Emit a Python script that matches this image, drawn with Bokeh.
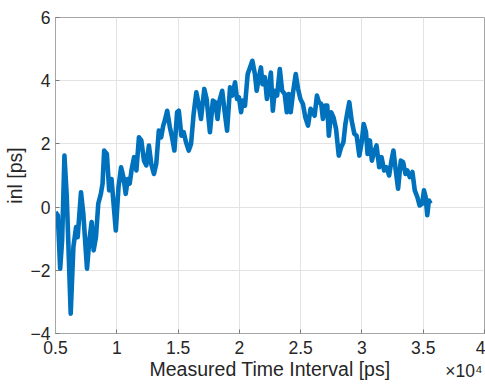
from bokeh.plotting import figure
from bokeh.models import Range1d, FixedTicker, LinearAxis
from bokeh.embed import file_html
from bokeh.resources import INLINE

# Measured time interval [ps]
time_ps = [5000, 5190, 5380, 5540, 5730, 5920, 6240, 6460, 6680, 6810, 7080, 7270,
           7570, 7760, 7950, 8110, 8300, 8490, 8700, 8840, 8970, 9190, 9380, 9570,
           9920, 10140, 10350, 10540, 10730, 10890, 11050, 11220, 11410, 11600, 11810,
           12000, 12220, 12410, 12620, 12810, 13030, 13220, 13430, 13620, 13790, 13920,
           14110, 14330, 14510, 14700, 14920, 15060, 15270, 15460, 15650, 15870, 16060,
           16270, 16490, 16680, 16870, 17140, 17330, 17600, 17840, 18030, 18220, 18380,
           18600, 18790, 19000, 19240, 19430, 19650, 19810, 19970, 20140, 20270, 20460,
           20680, 20870, 21060, 21270, 21410, 21600, 21760, 21890, 22080, 22250, 22410,
           22570, 22730, 22890, 23080, 23300, 23490, 23700, 23870, 24030, 24190, 24380,
           24600, 24790, 24980, 25190, 25380, 25600, 25810, 26000, 26140, 26330, 26490,
           26680, 26820, 27010, 27170, 27300, 27490, 27680, 27890, 28110, 28300, 28490,
           28650, 28840, 28970, 29160, 29380, 29570, 29790, 29980, 30140, 30330, 30460,
           30650, 30810, 31000, 31190, 31410, 31600, 31810, 32000, 32220, 32410, 32570,
           32760, 32950, 33170, 33360, 33550, 33710, 33900, 34120, 34310, 34520, 34710,
           34920, 35060, 35200, 35330, 35460, 35600]
# INL [ps]
inl_ps = [-0.16, -0.26, -1.95, -1.05, 1.63, 0.32, -3.37, -1.26, -0.63, -0.95, 0.47, -0.21,
          -1.95, -1.05, -0.47, -1.37, -0.95, 0.11, 0.42, 0.74, 1.79, 1.68, 0.53, 0.89,
          -0.74, 0.63, 1.26, 0.95, 0.42, 0.89, 0.74, 1.21, 1.58, 1.16, 2.21,
          2.11, 1.47, 1.32, 1.95, 1.37, 1.05, 1.37, 2.42, 2.21, 2.58, 2.74,
          3.05, 2.53, 2.21, 1.79, 3.0, 3.05, 2.26, 2.37, 2.05, 1.79, 2.0,
          2.95, 3.63, 3.26, 2.79, 3.74, 3.42, 2.37, 3.37, 3.32, 2.79, 3.37,
          3.68, 3.05, 2.42, 3.79, 3.53, 3.95, 3.42, 3.47, 3.0, 3.37, 3.21,
          4.21, 4.42, 4.63, 4.21, 3.68, 4.11, 4.42, 3.89, 4.11, 3.42, 3.79,
          4.26, 3.05, 3.68, 3.53, 4.37, 3.68, 3.58, 3.0, 3.58, 3.0, 3.63,
          4.21, 3.74, 3.42, 3.26, 2.84, 2.58, 3.11, 3.0, 2.89, 3.53, 3.32,
          3.26, 2.79, 3.21, 3.21, 2.26, 3.0, 2.84, 2.47, 1.63, 1.89, 2.05,
          2.63, 3.05, 3.32, 2.74, 2.32, 2.26, 1.63, 2.05, 2.63, 2.37, 1.68,
          2.11, 1.47, 1.74, 1.95, 1.26, 1.58, 1.16, 1.26, 1.0, 1.47, 1.79,
          1.16, 0.58, 1.47, 1.42, 1.05, 1.16, 0.95, 1.11, 0.53, 0.32, 0.05,
          0.11, 0.53, 0.32, -0.26, 0.21, 0.11]

x_ticks = [5000, 10000, 15000, 20000, 25000, 30000, 35000, 40000]
x_tick_labels = ["0.5", "1", "1.5", "2", "2.5", "3", "3.5", "4"]
y_ticks = [-4, -2, 0, 2, 4, 6]
exponent_label = "×10⁴"

FONT = "Liberation Sans"
TXT = "#262626"
AX = "#a6a6a6"
TICK = "#7a7a7a"

p = figure(width=485, height=384, output_backend="svg", toolbar_location=None,
           x_range=Range1d(5000, 40000), y_range=Range1d(-4, 6),
           min_border_left=53, min_border_right=1, min_border_top=17, min_border_bottom=51)
p.background_fill_color = "white"
p.border_fill_color = "white"
p.outline_line_color = AX
p.outline_line_width = 1

p.line(time_ps, inl_ps, line_color="#0072BD", line_width=4.6, line_join="round")

p.xaxis.ticker = FixedTicker(ticks=x_ticks)
p.xaxis.major_label_overrides = {t: l for t, l in zip(x_ticks, x_tick_labels)}
p.yaxis.ticker = FixedTicker(ticks=y_ticks)

for ax in (p.xaxis[0], p.yaxis[0]):
    ax.minor_tick_line_color = None
    ax.major_tick_out = 0
    ax.major_tick_in = 4
    ax.major_tick_line_color = TICK
    ax.axis_line_color = AX
    ax.major_label_text_font = FONT
    ax.major_label_text_font_size = "17.5px"
    ax.major_label_text_color = TXT
    ax.axis_label_text_font = FONT
    ax.axis_label_text_font_size = "19.5px"
    ax.axis_label_text_font_style = "normal"
    ax.axis_label_text_color = TXT

p.xaxis.axis_label = "Measured Time Interval [ps]"
p.yaxis.axis_label = "inl [ps]"
p.xaxis.major_label_standoff = 7
p.xaxis.axis_label_standoff = 1
p.yaxis.major_label_standoff = 5
p.yaxis.axis_label_standoff = 2

# exponent note "×10⁴" at the right end of the x axis (second, label-only axis)
p.extra_x_ranges = {"exp": Range1d(0, 1)}
exp_axis = LinearAxis(x_range_name="exp", ticker=FixedTicker(ticks=[0.952]),
                      major_label_overrides={0.952: exponent_label},
                      axis_line_color=None, major_tick_line_color=None,
                      minor_tick_line_color=None, major_tick_out=0, major_tick_in=0,
                      major_label_standoff=-22,
                      major_label_text_font=FONT, major_label_text_font_size="17.5px",
                      major_label_text_color=TXT)
p.add_layout(exp_axis, "below")

p.xgrid.ticker = FixedTicker(ticks=x_ticks)
p.ygrid.ticker = FixedTicker(ticks=y_ticks)
p.grid.grid_line_color = "#e3e3e3"
p.grid.grid_line_width = 1

open("out.html", "w").write(file_html(p, INLINE))
